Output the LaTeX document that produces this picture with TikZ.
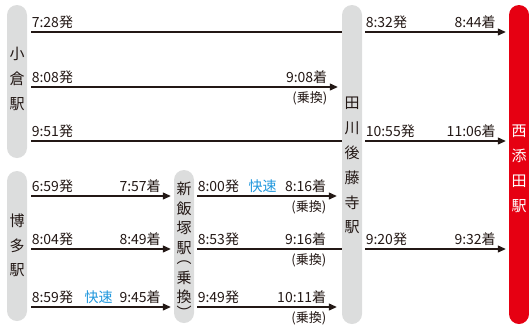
\documentclass[tikz,border=0pt]{standalone}
\usepackage{fontspec}
\setmainfont{Noto Sans CJK JP}
\usetikzlibrary{arrows.meta}
\definecolor{barg}{HTML}{DCDDDD}
\definecolor{nred}{HTML}{E60012}
\definecolor{kblue}{HTML}{1E96DC}
\definecolor{ink}{HTML}{231815}
\begin{document}
\begin{tikzpicture}[x=1pt,y=-1pt,
  bar/.style={fill=barg, rounded corners=10pt, minimum width=20pt, inner sep=0pt, draw=none},
  route/.style={draw=ink, line width=1.2pt},
  arr/.style={route, -{Triangle[length=8pt,width=7pt]}},
  tm/.style={font=\fontsize{14}{14}\selectfont, text=ink, inner sep=0pt},
  dep/.style={tm, anchor=base west, yshift=4.5pt},
  arv/.style={tm, anchor=base east, yshift=4.5pt},
  xfer/.style={font=\fontsize{13}{13}\selectfont, text=ink, inner sep=0pt, anchor=east, yshift=-11pt},
  rapid/.style={tm, text=kblue, anchor=base},
  vch/.style={font=\fontsize{15}{15}\selectfont, text=ink, inner sep=0pt, anchor=center},
]
\useasboundingbox (0,0) rectangle (529,325);
% station bars
\node[bar, minimum height=153pt] (kokura) at (17,81.5) {};
\node[bar, minimum height=150pt] (hakata) at (17,246) {};
\node[bar, minimum height=153pt] (iizuka) at (184,246.5) {};
\node[bar, minimum height=319pt] (tagawa) at (352,164.5) {};
\node[bar, fill=nred, minimum height=319pt] (soeda) at (519,164.5) {};
% station names
\foreach \c/\y [count=\i] in {小/54,倉/79,駅/104}
  \node[vch] (kk\i) at (17,\y) {\c};
\foreach \c/\y [count=\i] in {博/221,多/246,駅/270.5}
  \node[vch] (hk\i) at (17,\y) {\c};
\foreach \c/\y [count=\i] in {新/189,飯/208.5,塚/228,駅/248,︵/263,乗/278,換/297,︶/312}
  \node[vch] (iz\i) at (184,\y) {\c};
\foreach \c/\y [count=\i] in {田/103.5,川/128.3,後/153,藤/177.8,寺/202.6,駅/227.4}
  \node[vch] (tg\i) at (352,\y) {\c};
\foreach \c/\y [count=\i] in {西/131.5,添/156.3,田/181,駅/206}
  \node[vch, text=white] (sd\i) at (519,\y) {\c};
% row levels
\coordinate (rA) at (0,32);
\coordinate (rB) at (0,87);
\coordinate (rC) at (0,141);
\coordinate (rD) at (0,196);
\coordinate (rE) at (0,249);
\coordinate (rF) at (0,307);
% Kokura
\draw[route] ([xshift=4pt]kokura.east |- rA) -- (tagawa.west |- rA)
  node[pos=0, dep] (t1) {7:28発};
\draw[arr] ([xshift=4pt]kokura.east |- rB) -- ([xshift=-4pt]tagawa.west |- rB)
  node[pos=0, dep] (t2) {8:08発}
  node[pos=1, arv, xshift=-10pt] (t3) {9:08着}
  node[pos=1, xfer, xshift=-10pt] (x1) {(乗換)};
\draw[route] ([xshift=4pt]kokura.east |- rC) -- (tagawa.west |- rC)
  node[pos=0, dep] (t4) {9:51発};
% Tagawa-Gotoji -> Nishi-Soeda
\draw[arr] ([xshift=3pt]tagawa.east |- rA) -- ([xshift=-3pt]soeda.west |- rA)
  node[pos=0, dep] (t5) {8:32発}
  node[pos=1, arv, xshift=-9.5pt] (t6) {8:44着};
\draw[arr] ([xshift=3pt]tagawa.east |- rC) -- ([xshift=-3pt]soeda.west |- rC)
  node[pos=0, dep] (t7) {10:55発}
  node[pos=1, arv, xshift=-9.5pt] (t8) {11:06着};
\draw[arr] ([xshift=3pt]tagawa.east |- rE) -- ([xshift=-3pt]soeda.west |- rE)
  node[pos=0, dep] (t9) {9:20発}
  node[pos=1, arv, xshift=-9.5pt] (t10) {9:32着};
% Hakata -> Shin-Iizuka
\draw[arr] ([xshift=4pt]hakata.east |- rD) -- ([xshift=-3pt]iizuka.west |- rD)
  node[pos=0, dep] (t11) {6:59発}
  node[pos=1, arv, xshift=-9.5pt] (t12) {7:57着};
\draw[arr] ([xshift=4pt]hakata.east |- rE) -- ([xshift=-3pt]iizuka.west |- rE)
  node[pos=0, dep] (t13) {8:04発}
  node[pos=1, arv, xshift=-9.5pt] (t14) {8:49着};
\draw[arr] ([xshift=4pt]hakata.east |- rF) -- ([xshift=-3pt]iizuka.west |- rF)
  node[pos=0, dep] (t15) {8:59発}
  node[pos=1, arv, xshift=-9.5pt] (t16) {9:45着};
\node[rapid] (q1) at (98.5,302.5) {快速};
% Shin-Iizuka -> Tagawa-Gotoji
\draw[arr] ([xshift=3pt]iizuka.east |- rD) -- ([xshift=-5pt]tagawa.west |- rD)
  node[pos=0, dep] (t17) {8:00発}
  node[pos=1, arv, xshift=-10pt] (t18) {8:16着}
  node[pos=1, xfer, xshift=-10pt] (x2) {(乗換)};
\node[rapid] (q2) at (262.5,191.5) {快速};
\draw[route] ([xshift=3pt]iizuka.east |- rE) -- (tagawa.west |- rE)
  node[pos=0, dep] (t19) {8:53発}
  node[pos=1, arv, xshift=-15pt] (t20) {9:16着}
  node[pos=1, xfer, xshift=-15pt] (x3) {(乗換)};
\draw[arr] ([xshift=3pt]iizuka.east |- rF) -- ([xshift=-5pt]tagawa.west |- rF)
  node[pos=0, dep] (t21) {9:49発}
  node[pos=1, arv, xshift=-10pt] (t22) {10:11着}
  node[pos=1, xfer, xshift=-10pt] (x4) {(乗換)};
\end{tikzpicture}
\end{document}
